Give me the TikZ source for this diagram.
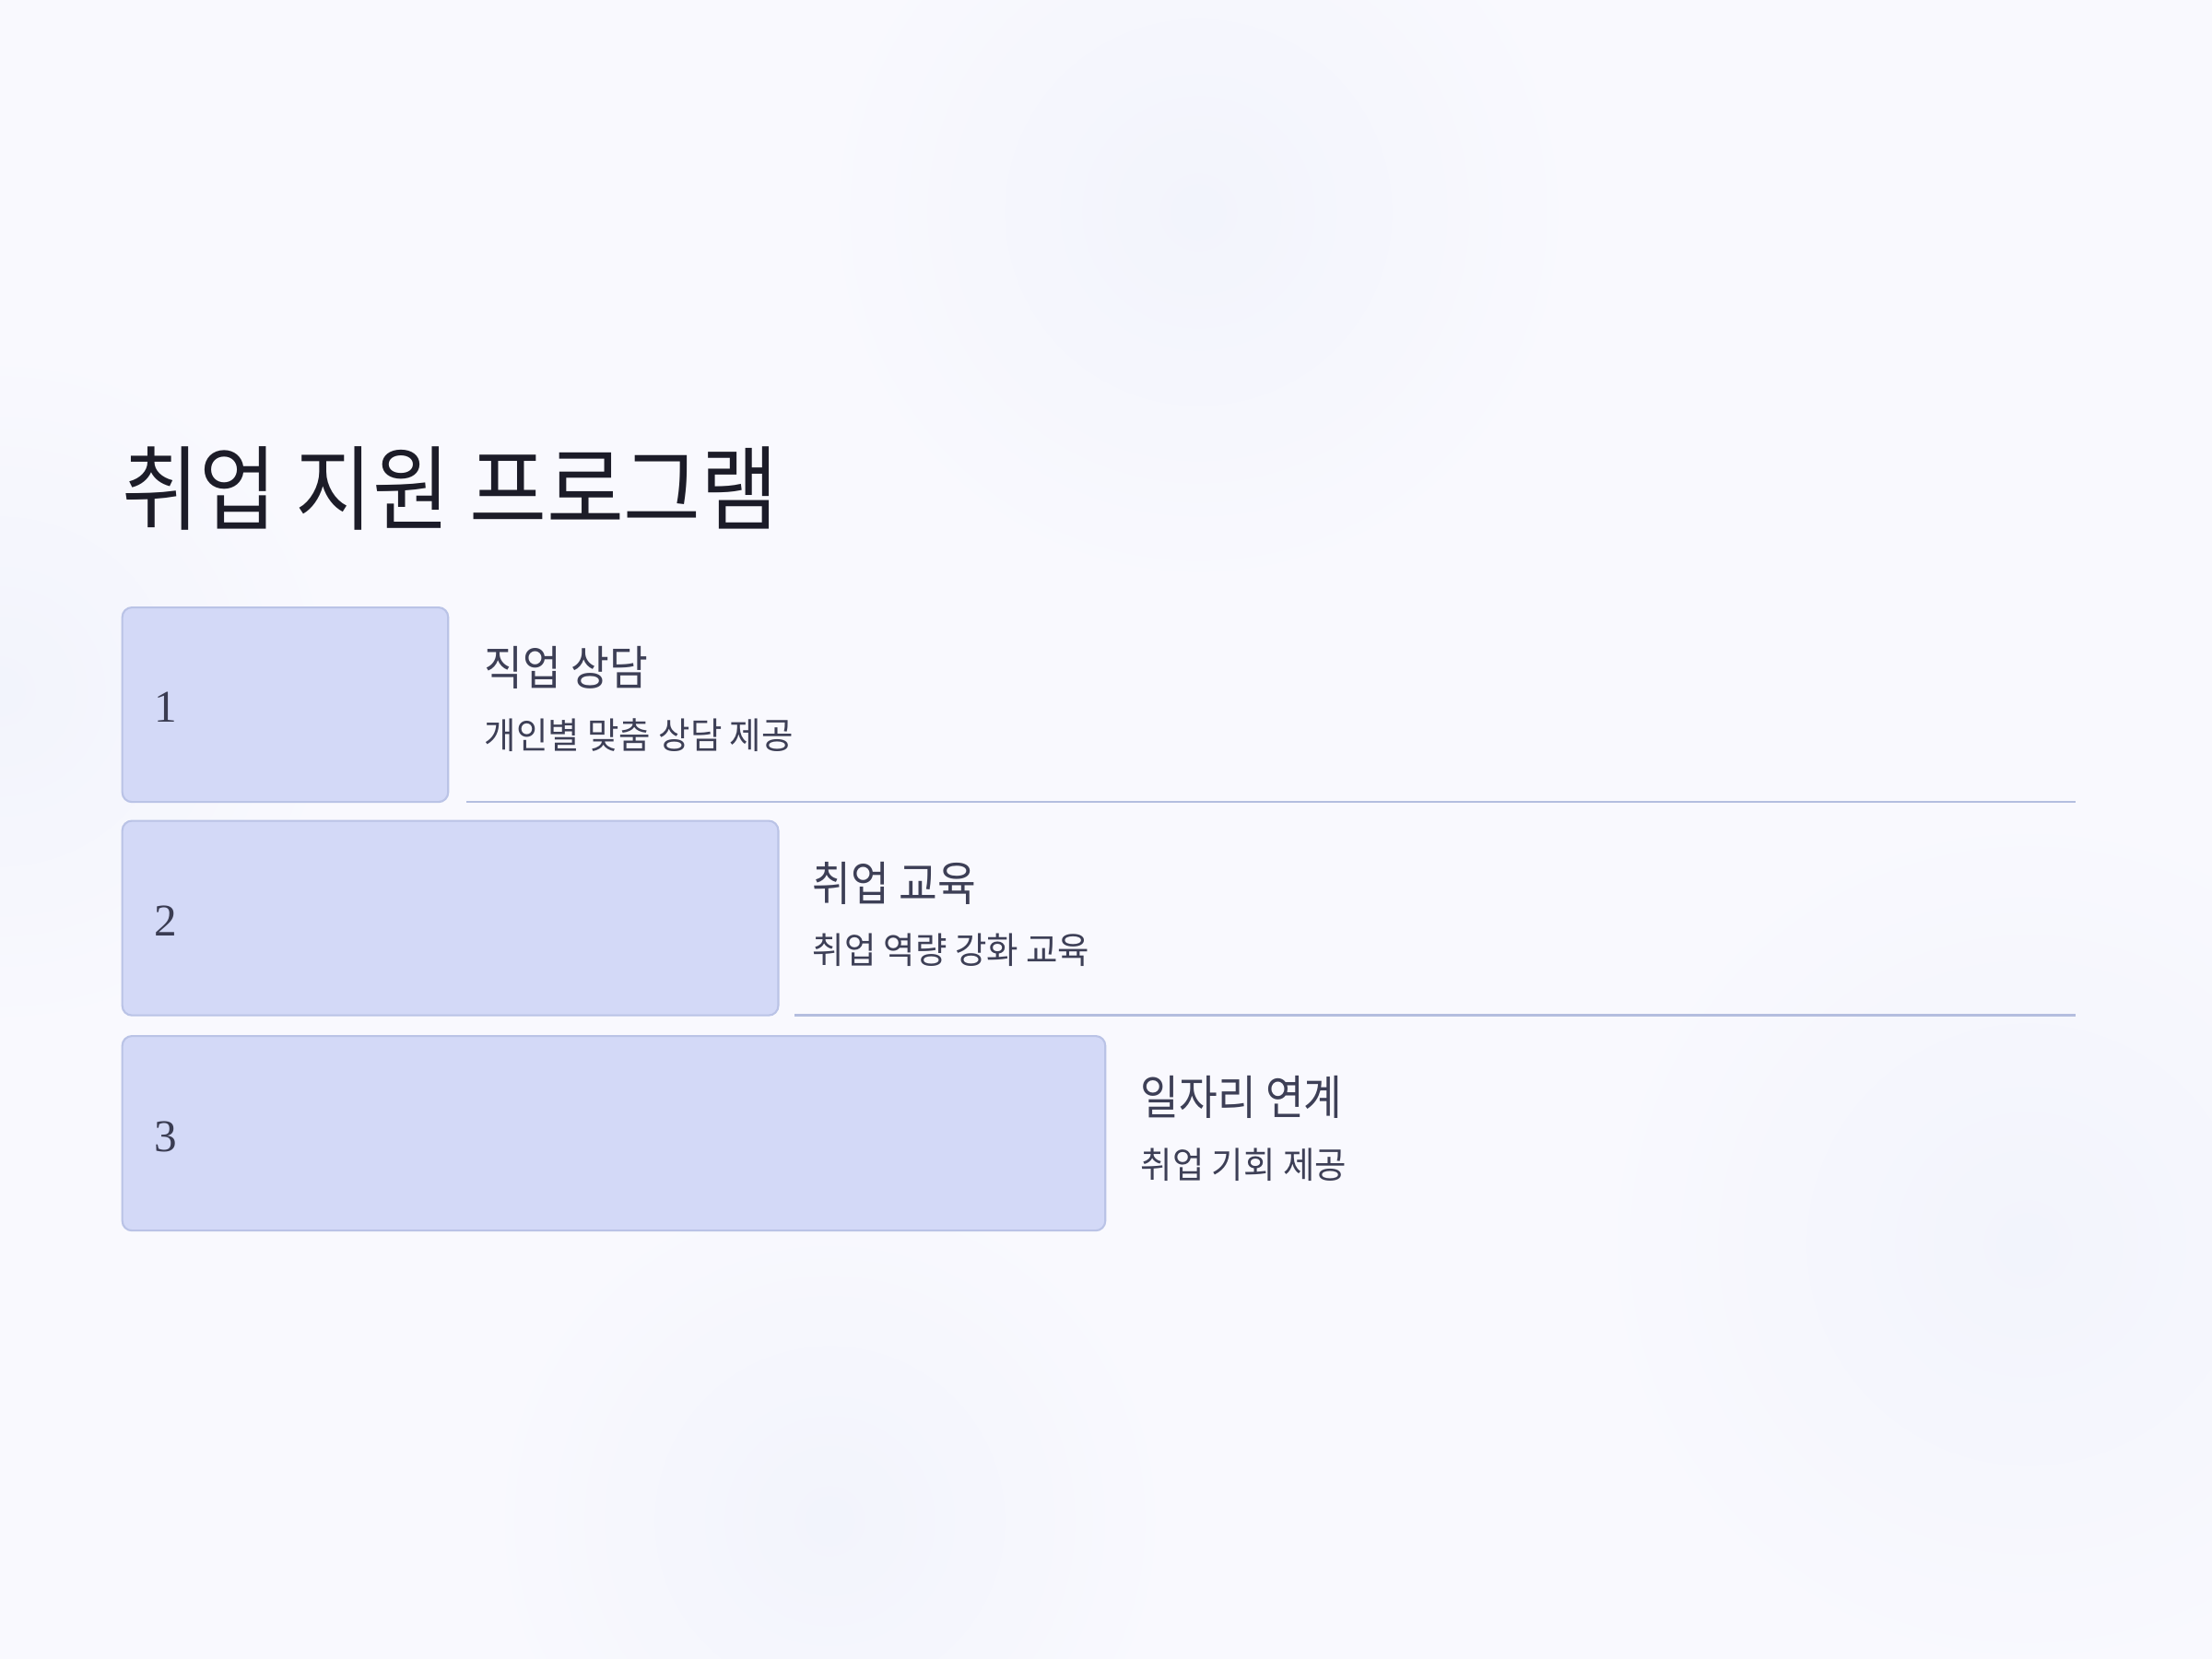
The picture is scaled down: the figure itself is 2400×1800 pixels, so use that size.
\documentclass[tikz,border=0pt]{standalone}
\usepackage{fontspec}
\newfontfamily\krt[FakeStretch=0.91]{Noto Sans CJK KR}
\newfontfamily\krh[FakeStretch=0.89]{Noto Sans CJK KR}
\newfontfamily\krs[FakeStretch=0.95]{Noto Sans CJK KR}
\newfontfamily\numfont{Liberation Serif}
\usetikzlibrary{positioning}
\definecolor{bgc}{HTML}{F9F9FE}
\definecolor{blob}{HTML}{F2F4FC}
\definecolor{boxfill}{HTML}{D3D9F7}
\definecolor{boxline}{HTML}{BAC3E6}
\definecolor{sepline}{HTML}{B4BEDF}
\definecolor{titlec}{HTML}{1C1C28}
\definecolor{headc}{HTML}{3D3F56}
\definecolor{numc}{HTML}{3A3C52}
\tikzset{
  stepbox/.style={draw=boxline, line width=0.6pt, fill=boxfill, rounded corners=3pt,
    anchor=north west, minimum height=2.11cm, inner sep=0pt},
  numtext/.style={anchor=west, text=numc, font=\numfont\fontsize{14}{17}\selectfont, inner sep=0pt},
  headtext/.style={anchor=west, text=headc, font=\krh\fontsize{14.5}{17}\selectfont, inner sep=0pt},
  subtext/.style={anchor=west, text=headc, font=\krs\fontsize{11.2}{14}\selectfont, inner sep=0pt},
  sep/.style={draw=sepline, line width=0.8pt}
}
\begin{document}
\begin{tikzpicture}[x=0.01cm,y=-0.01cm]
\fill[bgc] (0,0) rectangle (2400,1800);
\useasboundingbox (0,0) rectangle (2400,1800);
\begin{scope}
\clip (0,0) rectangle (2400,1800);
\shade[inner color=blob, outer color=bgc] (1300,230) circle (420);
\shade[inner color=blob, outer color=bgc] (2200,1350) circle (480);
\shade[inner color=blob, outer color=bgc] (900,1650) circle (380);
\shade[inner color=blob, outer color=bgc] (0,750) circle (380);
\end{scope}

\node[anchor=west, text=titlec, font=\krt\fontsize{28.5}{34}\selectfont, inner sep=0pt] (title) at (132,530) {취업 지원 프로그램};

% boxes
\node[stepbox, minimum width=3.534cm] (b1) at (131.6,658) {};
\node[stepbox, minimum width=7.114cm] (b2) at (131.6,889.5) {};
\node[stepbox, minimum width=10.66cm] (b3) at (131.6,1123) {};

\node[numtext] (n1) at (167,767.5) {1};
\node[numtext] (n2) at (167,999) {2};
\node[numtext] (n3) at (167,1233) {3};

\node[headtext] (h1) at (525,724) {직업 상담};
\node[subtext] (s1) at (525,798) {개인별 맞춤 상담 제공};
\node[headtext] (h2) at (881,958) {취업 교육};
\node[subtext] (s2) at (881,1031) {취업 역량 강화 교육};
\node[headtext] (h3) at (1237,1190) {일자리 연계};
\node[subtext] (s3) at (1237,1264) {취업 기회 제공};

\coordinate (l1a) at (506,870);
\coordinate (l1b) at (2252,870);
\coordinate (l2a) at (862,1101.5);
\coordinate (l2b) at (2252,1101.5);
\draw[sep] (l1a) -- (l1b);
\draw[sep] (l2a) -- (l2b);
\end{tikzpicture}
\end{document}
